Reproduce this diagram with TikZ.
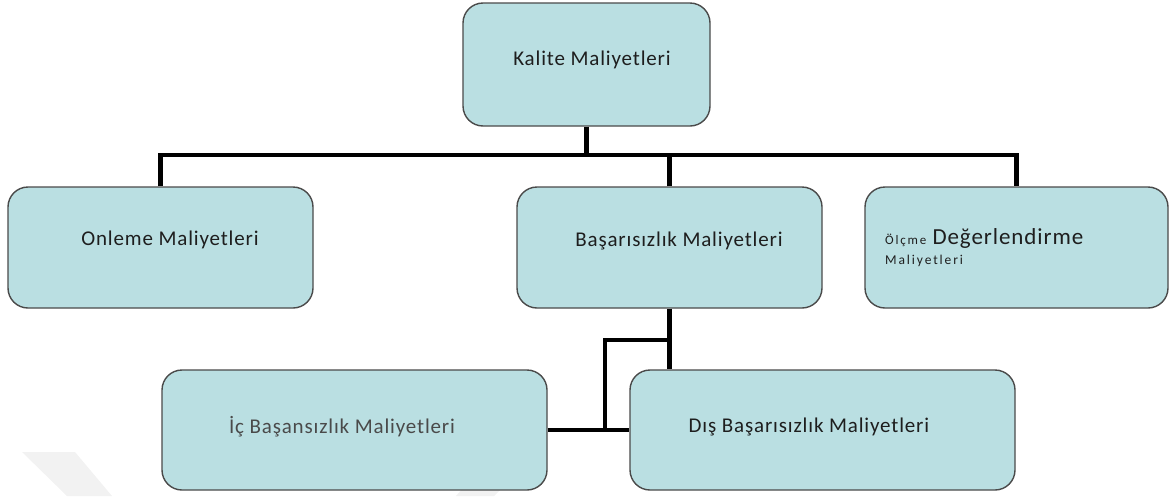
\documentclass[tikz,border=0pt]{standalone}
\usepackage{fontspec}
\setmainfont{Carlito}[LetterSpace=4]
\newfontfamily\smallwide{Carlito}[LetterSpace=14]
\definecolor{boxfill}{HTML}{BADFE2}
\definecolor{boxdraw}{HTML}{4A4A4A}
\definecolor{txt}{HTML}{1E1E1E}
\definecolor{txtlight}{HTML}{4A4A4A}
\definecolor{wm}{HTML}{F2F2F2}
\tikzset{
  box/.style={draw=boxdraw, line width=1.4pt, fill=boxfill, rounded corners=20pt, inner sep=0pt},
  lbl/.style={text=txt, inner sep=0pt, font=\fontsize{21}{24}\selectfont},
  conn/.style={line width=4.5pt, draw=black},
}
\begin{document}
\begin{tikzpicture}[x=1pt,y=-1pt]
\useasboundingbox (0,0) rectangle (1173,496);
% faint watermark
\fill[wm] (22,452) -- (75,452) -- (112,496) -- (67,496) -- cycle;
\fill[wm] (494,452) -- (538,452) -- (494,496) -- (456,496) -- cycle;
% boxes
\node[box, minimum width=247pt, minimum height=123pt] (top) at (586.5,64.5) {};
\node[box, minimum width=305pt, minimum height=121pt] (onl) at (160.5,247.5) {};
\node[box, minimum width=305pt, minimum height=121pt] (bas) at (669.5,247.5) {};
\node[box, minimum width=303pt, minimum height=121pt] (olc) at (1016.5,247.5) {};
\node[box, minimum width=385pt, minimum height=120pt] (ic) at (354.5,430) {};
\node[box, minimum width=385pt, minimum height=120pt] (dis) at (822.5,430) {};
% texts
\node[lbl] (ttop) at (592,60) {Kalite Maliyetleri};
\node[lbl] (tonl) at (170,240) {Onleme Maliyetleri};
\node[lbl] (tbas) at (679,241) {Başarısızlık Maliyetleri};
\node[lbl, anchor=base west, font=\fontsize{23}{26}\selectfont] (tolc) at (885,244) {{\smallwide\fontsize{13}{15}\selectfont Ölçme} Değerlendirme};
\node[lbl, anchor=base west, font=\smallwide\fontsize{13.5}{15}\selectfont] (tolc2) at (885,264) {Maliyetleri};
\node[lbl, text=txtlight] (tic) at (342,427) {İç Başansızlık Maliyetleri};
\node[lbl] (tdis) at (809,427) {Dış Başarısızlık Maliyetleri};
% connectors
\coordinate (bus) at (586.5,155);
\coordinate (j1) at (605,340);
\coordinate (j2) at (605,430);
\draw[conn] (top.south) -- (bus);
\draw[conn] (onl.north) -- (onl.north |- bus) -- (olc.north |- bus) -- (olc.north);
\draw[conn] (bas.north) -- (bas.north |- bus);
\draw[conn] (bas.south) -- (bas.south |- dis.north);
\draw[conn] (bas.south |- j1) -- (j1) -- (j2);
\draw[conn] (ic.east) -- (dis.west);
\end{tikzpicture}
\end{document}
